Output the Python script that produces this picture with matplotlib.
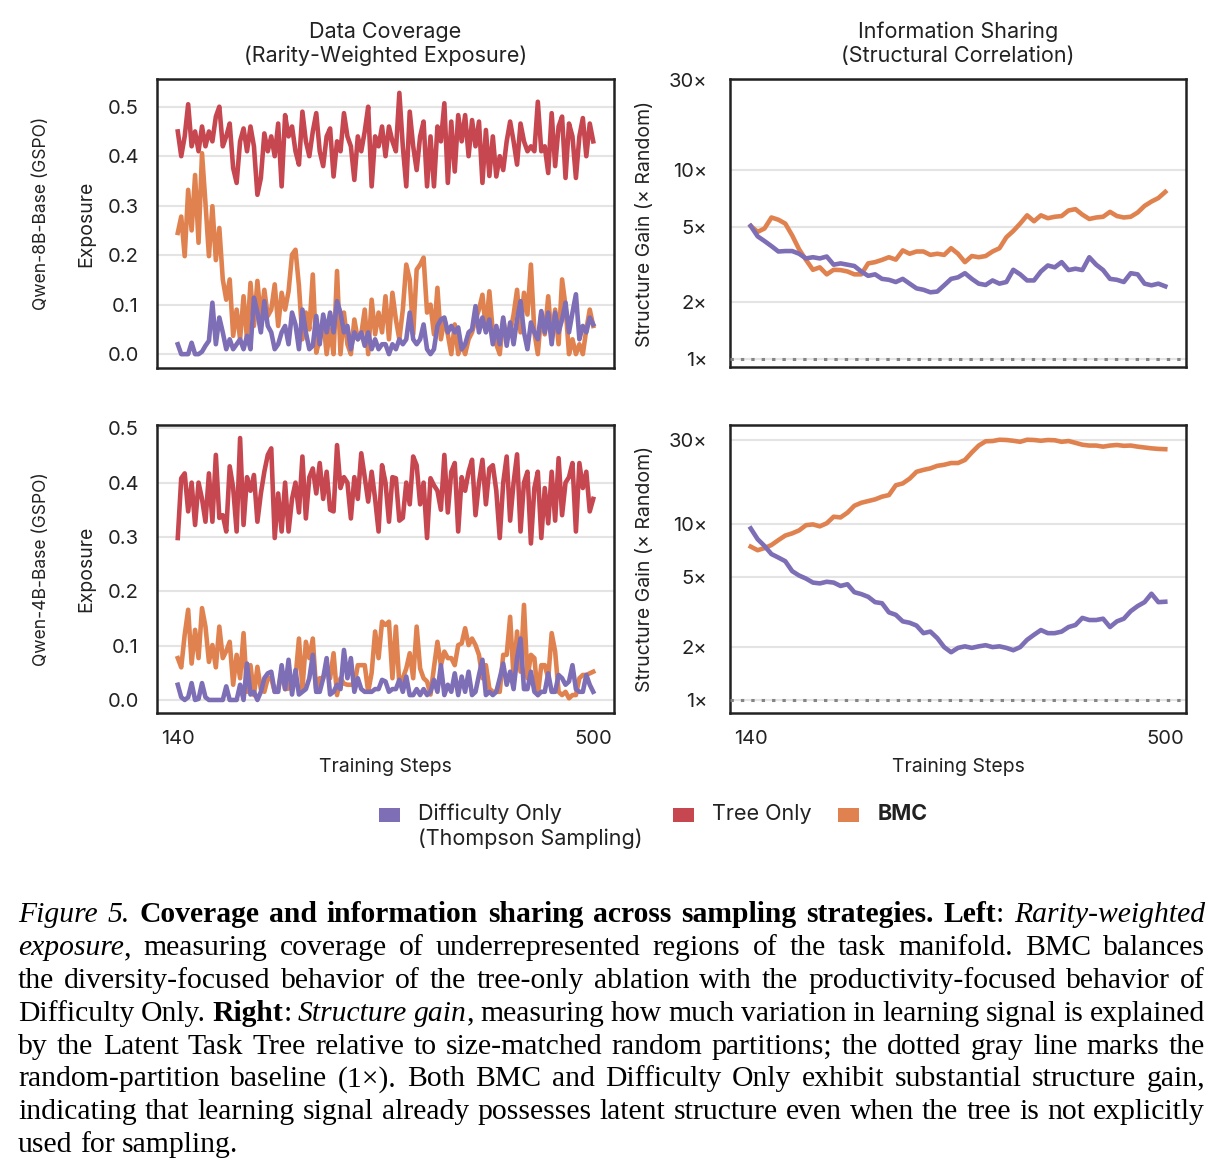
import numpy as np
import matplotlib
matplotlib.use("Agg")
import matplotlib.pyplot as plt
from matplotlib.patches import Rectangle
from matplotlib.ticker import NullLocator
from matplotlib.transforms import IdentityTransform

# ---------------- data ----------------
steps_fine = np.arange(140, 501, 3)      # noisy exposure series
steps_coarse = np.arange(140, 501, 6)    # structure-gain series

tree_8b = [0.45, 0.40, 0.44, 0.505, 0.42, 0.45, 0.41, 0.46, 0.42, 0.45,
           0.43, 0.48, 0.50, 0.42, 0.44, 0.466, 0.376, 0.346, 0.43, 0.456,
           0.41, 0.46, 0.42, 0.322, 0.356, 0.446, 0.41, 0.44, 0.40, 0.466,
           0.339, 0.483, 0.44, 0.46, 0.41, 0.383, 0.49, 0.43, 0.40, 0.45,
           0.487, 0.41, 0.38, 0.44, 0.456, 0.359, 0.43, 0.41, 0.487, 0.44,
           0.42, 0.352, 0.44, 0.41, 0.45, 0.50, 0.339, 0.44, 0.42, 0.46,
           0.40, 0.46, 0.43, 0.41, 0.528, 0.42, 0.339, 0.49, 0.42, 0.372,
           0.44, 0.47, 0.339, 0.44, 0.339, 0.46, 0.43, 0.507, 0.346, 0.47,
           0.369, 0.483, 0.43, 0.483, 0.40, 0.473, 0.42, 0.47, 0.346, 0.453,
           0.36, 0.44, 0.359, 0.40, 0.372, 0.43, 0.47, 0.43, 0.383, 0.466,
           0.43, 0.41, 0.42, 0.41, 0.51, 0.41, 0.42, 0.366, 0.487, 0.38,
           0.46, 0.48, 0.356, 0.466, 0.44, 0.356, 0.44, 0.477, 0.40, 0.466,
           0.43]
bmc_8b = [0.245, 0.278, 0.198, 0.332, 0.25, 0.362, 0.225, 0.406, 0.305, 0.198,
          0.299, 0.19, 0.255, 0.151, 0.11, 0.151, 0.037, 0.09, 0.03, 0.117,
          0.03, 0.144, 0.057, 0.148, 0.07, 0.13, 0.077, 0.09, 0.141, 0.057,
          0.124, 0.09, 0.127, 0.201, 0.211, 0.138, 0.03, 0.084, 0.05, 0.161,
          0.003, 0.03, 0.07, 0.0, 0.05, 0.0, 0.168, 0.0, 0.084, 0.02,
          0.0, 0.07, 0.03, 0.04, 0.09, 0.0, 0.11, 0.04, 0.084, 0.044,
          0.117, 0.03, 0.124, 0.07, 0.03, 0.09, 0.181, 0.151, 0.04, 0.171,
          0.181, 0.195, 0.084, 0.10, 0.04, 0.134, 0.03, 0.07, 0.04, 0.0,
          0.06, 0.0, 0.02, 0.0, 0.03, 0.044, 0.07, 0.09, 0.12, 0.05,
          0.127, 0.044, 0.02, 0.0, 0.07, 0.03, 0.044, 0.08, 0.13, 0.044,
          0.124, 0.08, 0.181, 0.044, 0.0, 0.084, 0.04, 0.117, 0.03, 0.09,
          0.02, 0.151, 0.097, 0.0, 0.03, 0.0, 0.02, 0.0, 0.05, 0.09,
          0.057]
diff_8b = [0.02, 0.0, 0.0, 0.0, 0.023, 0.0, 0.0, 0.005, 0.017, 0.027,
           0.104, 0.02, 0.074, 0.044, 0.01, 0.03, 0.01, 0.02, 0.03, 0.01,
           0.037, 0.01, 0.114, 0.084, 0.044, 0.107, 0.057, 0.044, 0.01, 0.02,
           0.044, 0.057, 0.02, 0.084, 0.06, 0.01, 0.09, 0.044, 0.01, 0.017,
           0.077, 0.02, 0.08, 0.044, 0.084, 0.044, 0.107, 0.084, 0.044, 0.057,
           0.01, 0.044, 0.03, 0.044, 0.017, 0.044, 0.01, 0.03, 0.01, 0.02,
           0.02, 0.0, 0.02, 0.01, 0.03, 0.02, 0.03, 0.084, 0.03, 0.02,
           0.03, 0.06, 0.01, 0.0, 0.01, 0.057, 0.07, 0.074, 0.044, 0.057,
           0.044, 0.054, 0.01, 0.02, 0.044, 0.05, 0.097, 0.044, 0.074, 0.044,
           0.07, 0.02, 0.057, 0.02, 0.074, 0.017, 0.064, 0.02, 0.07, 0.107,
           0.044, 0.01, 0.064, 0.044, 0.03, 0.087, 0.044, 0.084, 0.02, 0.084,
           0.044, 0.07, 0.104, 0.044, 0.084, 0.121, 0.03, 0.057, 0.044, 0.074,
           0.06]

tree_4b = [0.298, 0.408, 0.417, 0.347, 0.40, 0.322, 0.40, 0.37, 0.328, 0.417,
           0.328, 0.451, 0.335, 0.34, 0.31, 0.43, 0.39, 0.31, 0.482, 0.322,
           0.41, 0.385, 0.414, 0.328, 0.38, 0.42, 0.451, 0.463, 0.298, 0.38,
           0.31, 0.40, 0.31, 0.37, 0.40, 0.345, 0.448, 0.334, 0.41, 0.426,
           0.38, 0.436, 0.37, 0.42, 0.35, 0.347, 0.469, 0.39, 0.41, 0.40,
           0.334, 0.41, 0.37, 0.454, 0.41, 0.365, 0.42, 0.37, 0.31, 0.432,
           0.40, 0.328, 0.41, 0.408, 0.33, 0.335, 0.40, 0.36, 0.448, 0.432,
           0.36, 0.40, 0.298, 0.408, 0.395, 0.385, 0.35, 0.451, 0.345, 0.42,
           0.436, 0.31, 0.41, 0.385, 0.42, 0.442, 0.34, 0.40, 0.442, 0.36,
           0.426, 0.432, 0.385, 0.298, 0.40, 0.448, 0.33, 0.40, 0.452, 0.31,
           0.40, 0.42, 0.288, 0.39, 0.42, 0.298, 0.39, 0.325, 0.42, 0.33,
           0.445, 0.34, 0.40, 0.41, 0.436, 0.31, 0.436, 0.39, 0.42, 0.347,
           0.37]
bmc_4b = [0.077, 0.06, 0.12, 0.166, 0.067, 0.129, 0.077, 0.169, 0.135, 0.07,
          0.101, 0.06, 0.135, 0.077, 0.09, 0.107, 0.028, 0.083, 0.04, 0.123,
          0.015, 0.064, 0.009, 0.061, 0.02, 0.015, 0.04, 0.04, 0.015, 0.02,
          0.052, 0.02, 0.021, 0.04, 0.04, 0.113, 0.02, 0.107, 0.077, 0.113,
          0.015, 0.04, 0.04, 0.064, 0.04, 0.086, 0.009, 0.04, 0.03, 0.028,
          0.028, 0.028, 0.064, 0.064, 0.064, 0.015, 0.05, 0.126, 0.077, 0.144,
          0.138, 0.144, 0.04, 0.135, 0.028, 0.04, 0.058, 0.086, 0.04, 0.135,
          0.058, 0.04, 0.034, 0.01, 0.06, 0.107, 0.064, 0.089, 0.077, 0.077,
          0.064, 0.101, 0.104, 0.132, 0.101, 0.113, 0.101, 0.083, 0.04, 0.064,
          0.021, 0.015, 0.015, 0.015, 0.083, 0.083, 0.153, 0.04, 0.126, 0.052,
          0.175, 0.04, 0.083, 0.077, 0.009, 0.064, 0.064, 0.04, 0.123, 0.089,
          0.015, 0.009, 0.015, 0.003, 0.009, 0.009, 0.04, 0.046, 0.046, 0.049,
          0.052]
diff_4b = [0.028, 0.005, 0.0, 0.005, 0.031, 0.0, 0.002, 0.031, 0.005, 0.0,
           0.0, 0.0, 0.0, 0.0, 0.025, 0.0, 0.0, 0.0, 0.028, 0.0,
           0.067, 0.01, 0.015, 0.0, 0.015, 0.04, 0.049, 0.052, 0.015, 0.015,
           0.064, 0.02, 0.074, 0.01, 0.055, 0.01, 0.015, 0.02, 0.04, 0.083,
           0.015, 0.015, 0.04, 0.077, 0.01, 0.015, 0.028, 0.02, 0.092, 0.04,
           0.077, 0.015, 0.04, 0.02, 0.015, 0.015, 0.015, 0.02, 0.02, 0.037,
           0.034, 0.015, 0.02, 0.02, 0.037, 0.015, 0.043, 0.009, 0.009, 0.02,
           0.009, 0.02, 0.009, 0.015, 0.037, 0.015, 0.064, 0.009, 0.028, 0.015,
           0.049, 0.009, 0.043, 0.015, 0.052, 0.009, 0.015, 0.046, 0.074, 0.009,
           0.015, 0.009, 0.015, 0.04, 0.067, 0.028, 0.052, 0.02, 0.077, 0.113,
           0.02, 0.02, 0.052, 0.015, 0.009, 0.015, 0.015, 0.049, 0.015, 0.015,
           0.046, 0.04, 0.028, 0.034, 0.064, 0.02, 0.015, 0.015, 0.046, 0.028,
           0.015]

gain_bmc_8b = [5.05, 4.7, 4.9, 5.6, 5.45, 5.2, 4.5, 3.8, 3.34, 2.96,
               3.05, 2.8, 2.96, 2.95, 2.9, 2.8, 2.8, 3.2, 3.25, 3.34,
               3.45, 3.35, 3.75, 3.6, 3.7, 3.7, 3.55, 3.6, 3.55, 3.85,
               3.6, 3.25, 3.5, 3.45, 3.5, 3.7, 3.85, 4.4, 4.75, 5.2,
               5.75, 5.35, 5.75, 5.55, 5.65, 5.7, 6.1, 6.2, 5.8, 5.5,
               5.6, 5.65, 6.0, 5.7, 5.6, 5.65, 5.95, 6.45, 6.8, 7.1,
               7.65]
gain_diff_8b = [5.05, 4.45, 4.2, 3.95, 3.7, 3.72, 3.72, 3.6, 3.4, 3.45,
                3.4, 3.48, 3.15, 3.2, 3.15, 3.1, 2.9, 2.75, 2.8, 2.65,
                2.62, 2.55, 2.65, 2.5, 2.36, 2.32, 2.25, 2.27, 2.45, 2.65,
                2.7, 2.84, 2.65, 2.5, 2.46, 2.6, 2.5, 2.55, 2.96, 2.8,
                2.6, 2.6, 2.9, 3.12, 3.05, 3.25, 2.95, 3.0, 2.95, 3.45,
                3.15, 2.95, 2.65, 2.62, 2.55, 2.84, 2.8, 2.5, 2.45, 2.5,
                2.42]
gain_bmc_4b = [7.44, 7.1, 7.3, 7.6, 8.1, 8.6, 8.85, 9.2, 9.85, 9.95,
               9.7, 10.1, 11.0, 10.9, 11.6, 12.7, 13.2, 13.5, 13.8, 14.3,
               14.6, 16.6, 17.0, 18.1, 19.8, 20.3, 20.7, 21.4, 21.7, 22.2,
               22.2, 23.1, 25.5, 27.9, 29.5, 29.6, 30.1, 30.0, 29.7, 29.3,
               30.1, 30.0, 29.7, 30.0, 29.9, 29.3, 29.6, 28.9, 28.2, 27.9,
               27.9, 27.5, 27.9, 28.1, 27.8, 27.9, 27.5, 27.2, 26.9, 26.7,
               26.6]
gain_diff_4b = [9.44, 8.2, 7.5, 6.75, 6.45, 6.15, 5.4, 5.1, 4.9, 4.65,
                4.6, 4.7, 4.65, 4.45, 4.55, 4.1, 4.0, 3.86, 3.6, 3.55,
                3.15, 3.05, 2.8, 2.75, 2.65, 2.4, 2.45, 2.25, 2.0, 1.87,
                1.98, 2.02, 1.98, 2.02, 2.05, 2.0, 2.02, 1.98, 1.92, 2.0,
                2.2, 2.35, 2.5, 2.4, 2.4, 2.45, 2.6, 2.67, 2.93, 2.85,
                2.85, 2.9, 2.6, 2.8, 2.9, 3.2, 3.42, 3.6, 4.02, 3.6,
                3.62]

gain_ticks = [1, 2, 5, 10, 30]
gain_ticklabels = ["1×", "2×", "5×", "10×", "30×"]
exposure_ticks = [0.0, 0.1, 0.2, 0.3, 0.4, 0.5]
row_labels = ["Qwen-8B-Base (GSPO)", "Qwen-4B-Base (GSPO)"]
col_titles = ["Data Coverage\n(Rarity-Weighted Exposure)",
              "Information Sharing\n(Structural Correlation)"]
series_names = [["Difficulty Only", "(Thompson Sampling)"], ["Tree Only"], ["BMC"]]

# ---------------- style ----------------
PURPLE = "#7D6EB6"
RED = "#C6474F"
ORANGE = "#E0824F"
TXT = "#222222"
plt.rcParams["font.family"] = ["Inter", "DejaVu Sans"]

W, H = 1224, 1174
fig = plt.figure(figsize=(W / 100, H / 100), dpi=100)
fig.patch.set_facecolor("white")


def fx(x):
    return x / W


def fy(y):
    return 1 - y / H


def add_ax(x0, x1, y0, y1):
    return fig.add_axes([fx(x0), fy(y1), fx(x1) - fx(x0), (y1 - y0) / H])


axTL = add_ax(157, 614, 79, 368)
axTR = add_ax(730, 1186, 79, 367)
axBL = add_ax(157, 614, 425, 713)
axBR = add_ax(730, 1186, 425, 713)

LW = 3.3
TICK_FS = 14.5
for ax in (axTL, axTR, axBL, axBR):
    for s in ax.spines.values():
        s.set_linewidth(1.8)
        s.set_color(TXT)
    ax.grid(axis="y", color="#e4e4e4", lw=1.5)
    ax.grid(axis="x", visible=False)
    ax.set_axisbelow(True)
    ax.tick_params(length=0, labelsize=TICK_FS, colors=TXT, pad=13)
    ax.tick_params(axis="x", pad=12)
    ax.set_xlim(122, 518)
    ax.set_xticks([140, 500])

for ax in (axTR, axBR):
    ax.tick_params(axis="y", pad=16.5)

for ax, tree, bmc, diff, ylim in ((axTL, tree_8b, bmc_8b, diff_8b, (-0.028, 0.556)),
                                  (axBL, tree_4b, bmc_4b, diff_4b, (-0.024, 0.506))):
    ax.plot(steps_fine, tree, color=RED, lw=LW, solid_joinstyle="round")
    ax.plot(steps_fine, bmc, color=ORANGE, lw=LW, solid_joinstyle="round")
    ax.plot(steps_fine, diff, color=PURPLE, lw=LW, solid_joinstyle="round")
    ax.set_ylim(*ylim)
    ax.set_yticks(exposure_ticks)
    ax.set_yticklabels([f"{v:.1f}" for v in exposure_ticks])

for ax, bmc, diff, ylim in ((axTR, gain_bmc_8b, gain_diff_8b, (0.905, 30.3)),
                            (axBR, gain_bmc_4b, gain_diff_4b, (0.845, 36.5))):
    ax.set_yscale("log")
    ax.axhline(1, color="#858585", lw=2.2, linestyle=(0, (1.1, 2.3)), zorder=3)
    ax.plot(steps_coarse, bmc, color=ORANGE, lw=LW, solid_joinstyle="round")
    ax.plot(steps_coarse, diff, color=PURPLE, lw=LW, solid_joinstyle="round")
    ax.set_ylim(*ylim)
    ax.set_yticks(gain_ticks)
    ax.set_yticklabels(gain_ticklabels)
    ax.yaxis.set_minor_locator(NullLocator())

for ax in (axTL, axTR):
    ax.tick_params(axis="x", labelbottom=False)

# titles
TITLE_FS = 15.5
for xc, ttl in ((385.5, col_titles[0]), (958, col_titles[1])):
    l1, l2 = ttl.split("\n")
    fig.text(fx(xc), fy(32), l1, ha="center", va="center", fontsize=TITLE_FS, color=TXT)
    fig.text(fx(xc), fy(56), l2, ha="center", va="center", fontsize=TITLE_FS, color=TXT)

LAB_FS = 14
for (yc, rl) in ((213, row_labels[0]), (569, row_labels[1])):
    fig.text(fx(42), fy(yc), rl, rotation=90, ha="center", va="center",
             fontsize=12.6, color=TXT)
for yc in (223.5, 569):
    fig.text(fx(86), fy(yc), "Exposure", rotation=90, ha="center", va="center",
             fontsize=LAB_FS, color=TXT)
    fig.text(fx(645), fy(yc), "Structure Gain (× Random)", rotation=90,
             ha="center", va="center", fontsize=LAB_FS, color=TXT)

fig.text(fx(385.5), fy(767), "Training Steps", ha="center", va="center",
         fontsize=LAB_FS, color=TXT)
fig.text(fx(958), fy(767), "Training Steps", ha="center", va="center",
         fontsize=LAB_FS, color=TXT)

# legend (manual, figure pixel coordinates)
LEG_FS = 15.5
leg = [(PURPLE, 379, 418, series_names[0], "normal"),
       (RED, 673, 712, series_names[1], "normal"),
       (ORANGE, 838, 878, series_names[2], "bold")]
for col, px, tx, lines, wt in leg:
    fig.add_artist(Rectangle((fx(px), fy(822)), fx(21), 14 / H,
                             transform=fig.transFigure, color=col, lw=0))
    for k, lab in enumerate(lines):
        fig.text(fx(tx), fy(814 + 25 * k), lab, ha="left", va="center",
                 fontsize=LEG_FS, color=TXT, fontweight=wt)

# ---------------- caption (justified) ----------------
caption_lines = [
    "_Figure 5._ *Coverage and information sharing across sampling strategies. Left*: _Rarity-weighted_",
    "_exposure_, measuring coverage of underrepresented regions of the task manifold. BMC balances",
    "the diversity-focused behavior of the tree-only ablation with the productivity-focused behavior of",
    "Difficulty Only. *Right*: _Structure gain_, measuring how much variation in learning signal is explained",
    "by the Latent Task Tree relative to size-matched random partitions; the dotted gray line marks the",
    "random-partition baseline (1×). Both BMC and Difficulty Only exhibit substantial structure gain,",
    "indicating that learning signal already possesses latent structure even when the tree is not explicitly",
    "used for sampling.",
]
CAP_FS = 21.3
CAP_X0, CAP_X1 = 18, 1205
CAP_BASE0, CAP_DY = 922, 32.9


def parse(line):
    runs, style, buf = [], "n", ""
    for ch in line:
        if ch == "_":
            runs.append((buf, style)); buf = ""
            style = "n" if style == "i" else "i"
        elif ch == "*":
            runs.append((buf, style)); buf = ""
            style = "n" if style == "b" else "b"
        else:
            buf += ch
    runs.append((buf, style))
    words = [[]]
    for txt, st in runs:
        parts = txt.split(" ")
        for k, p in enumerate(parts):
            if k > 0:
                words.append([])
            if p:
                words[-1].append((p, st))
    return [w for w in words if w]


fig.canvas.draw()
renderer = fig.canvas.get_renderer()
for li, line in enumerate(caption_lines):
    words = parse(line)
    objs = []
    wlist = []
    for w in words:
        segs = []
        tw = 0
        for txt, st in w:
            t = fig.text(0, 0, txt, transform=IdentityTransform(),
                         fontfamily=["Liberation Serif", "DejaVu Serif"],
                         fontsize=CAP_FS, color="black",
                         fontstyle="italic" if st == "i" else "normal",
                         fontweight="bold" if st == "b" else "normal",
                         va="baseline", ha="left")
            wd = t.get_window_extent(renderer=renderer).width
            segs.append((t, wd))
            tw += wd
        objs.append(segs)
        wlist.append(tw)
    total = sum(wlist)
    if li < len(caption_lines) - 1 and len(words) > 1:
        gap = (CAP_X1 - CAP_X0 - total) / (len(words) - 1)
    else:
        gap = CAP_FS * 100 / 72 * 0.25
    x = CAP_X0
    yb = H - (CAP_BASE0 + li * CAP_DY)
    for segs, tw in zip(objs, wlist):
        xx = x
        for t, wd in segs:
            t.set_position((xx, yb))
            xx += wd
        x += tw + gap

fig.savefig("out.png", dpi=100, facecolor="white")
